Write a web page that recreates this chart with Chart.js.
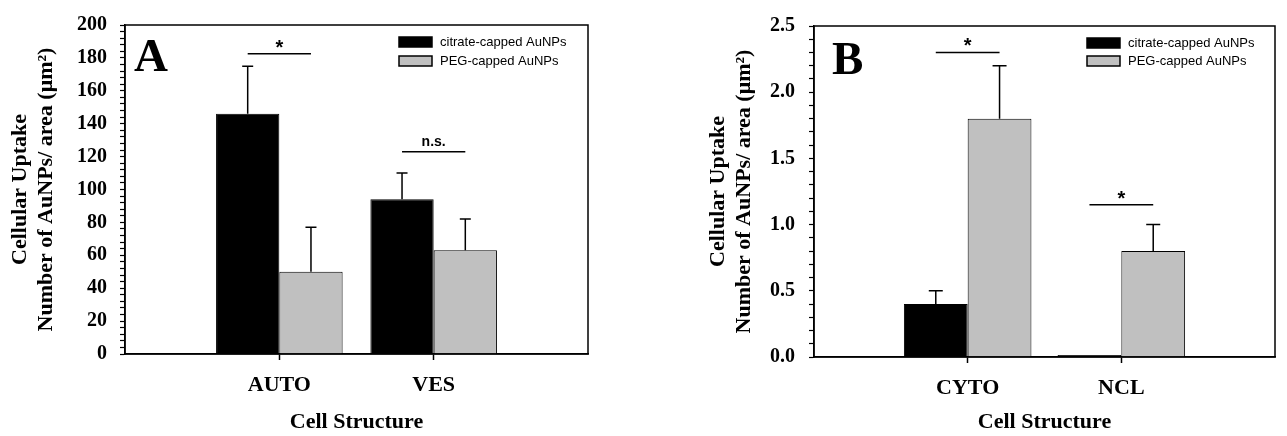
<!DOCTYPE html>
<html>
<head>
<meta charset="utf-8">
<script src="https://cdn.jsdelivr.net/npm/chart.js@4.4.0/dist/chart.umd.min.js"></script>
<style>
  body { margin: 0; background: #fff; width: 1287px; height: 436px; overflow: hidden; }
  canvas { position: absolute; top: 0; }
</style>
</head>
<body>
<canvas id="chartA" width="640" height="436" style="left:0"></canvas>
<canvas id="chartB" width="647" height="436" style="left:640px"></canvas>
<script>
// panel A
var catsA = ['', 'AUTO', 'VES', ''];
var citrateA = [null, 146, 94, null];
var citrateErrA = [null, 29, 16, null];
var pegA = [null, 50, 63, null];
var pegErrA = [null, 27, 19, null];
var sigA = [null, 182.5, 123, null];
var sigTextA = [null, '*', 'n.s.', null];

// panel B
var catsB = ['', 'CYTO', 'NCL', ''];
var citrateB = [null, 0.4, 0.015, null];
var citrateErrB = [null, 0.1, 0, null];
var pegB = [null, 1.8, 0.8, null];
var pegErrB = [null, 0.4, 0.2, null];
var sigB = [null, 2.3, 1.15, null];
var sigTextB = [null, '*', '*', null];

var seriesNames = ['citrate-capped AuNPs', 'PEG-capped AuNPs'];
var yTitle = ['Cellular Uptake', 'Number of AuNPs/ area (\u03bcm\u00b2)'];
var xTitle = 'Cell Structure';

var serif = '"Liberation Serif", "Times New Roman", serif';
var sans = '"Liberation Sans", Arial, sans-serif';

// error bars, significance marks, frame, legend and panel letter
var extras = {
    id: 'extras',
    afterDatasetsDraw: function (chart, args, o) {
        var c = chart.ctx, a = chart.chartArea, y = chart.scales.y;
        var ds = chart.data.datasets;
        c.save();
        c.strokeStyle = '#000';
        c.lineWidth = 1.5;

        ds.forEach(function (d, i) {
            var meta = chart.getDatasetMeta(i);
            meta.data.forEach(function (bar, j) {
                var e = o.errors[i][j];
                if (!e) return;
                var top = y.getPixelForValue(d.data[j] + e);
                c.beginPath();
                c.moveTo(bar.x, bar.y);
                c.lineTo(bar.x, top);
                c.moveTo(bar.x - o.cap, top);
                c.lineTo(bar.x + o.cap, top);
                c.stroke();
            });
        });

        var m0 = chart.getDatasetMeta(0), m1 = chart.getDatasetMeta(1);
        o.sig.forEach(function (v, j) {
            if (v == null) return;
            var py = y.getPixelForValue(v);
            var x0 = m0.data[j].x, x1 = m1.data[j].x;
            c.beginPath();
            c.moveTo(x0, py);
            c.lineTo(x1, py);
            c.stroke();
            var t = o.sigText[j];
            c.font = t === '*' ? 'bold 20px ' + sans : 'bold 14px ' + sans;
            c.fillStyle = '#000';
            c.textAlign = 'center';
            c.textBaseline = 'alphabetic';
            var m = c.measureText(t);
            var by = py - 10 + (m.actualBoundingBoxAscent - m.actualBoundingBoxDescent) / 2;
            c.fillText(t, (x0 + x1) / 2, by);
        });

        c.strokeRect(a.left, a.top, a.right - a.left, a.bottom - a.top);

        c.font = 'bold 47px ' + serif;
        c.fillStyle = '#000';
        c.textAlign = 'left';
        c.textBaseline = 'alphabetic';
        c.fillText(o.letter, a.left + o.letterX, a.top + o.letterY);

        c.font = '13px ' + sans;
        c.textBaseline = 'middle';
        ds.forEach(function (d, i) {
            var bx = a.right - o.legendRight, by = a.top + 12 + i * o.legendGap;
            c.fillStyle = d.backgroundColor;
            c.fillRect(bx, by, 33, 10);
            c.strokeRect(bx, by, 33, 10);
            c.fillStyle = '#000';
            c.fillText(d.label, bx + 41, by + 5);
        });
        c.restore();
    }
};

function makeChart(id, cats, citrate, peg, yMax, step, tickFn, o) {
    return new Chart(document.getElementById(id), {
        type: 'bar',
        data: {
            labels: cats,
            datasets: [{
                label: seriesNames[0],
                data: citrate,
                backgroundColor: '#000',
                borderColor: '#000',
                borderWidth: 1
            }, {
                label: seriesNames[1],
                data: peg,
                backgroundColor: '#c0c0c0',
                borderColor: '#000',
                borderWidth: 1
            }]
        },
        options: {
            responsive: false,
            animation: false,
            categoryPercentage: o.catPct,
            barPercentage: 1,
            layout: { padding: { top: o.box.top, right: o.width - o.box.right, left: 0, bottom: 0 } },
            plugins: {
                legend: { display: false },
                tooltip: { enabled: false },
                extras: o
            },
            scales: {
                x: {
                    offset: false,
                    afterFit: function (s) { s.height = o.xHeight; },
                    grid: {
                        offset: false,
                        drawOnChartArea: false,
                        tickLength: 6,
                        tickWidth: 1.5,
                        tickColor: function (ctx) { return cats[ctx.index] ? '#000' : 'rgba(0,0,0,0)'; }
                    },
                    border: { color: '#000', width: 1.5 },
                    ticks: {
                        autoSkip: false,
                        maxRotation: 0,
                        padding: 12,
                        color: '#000',
                        font: { family: serif, size: 22, weight: 'bold' }
                    },
                    title: {
                        display: true,
                        text: xTitle,
                        color: '#000',
                        padding: { top: 0, bottom: 0 },
                        font: { family: serif, size: 22, weight: 'bold' }
                    }
                },
                y: {
                    min: 0,
                    max: yMax,
                    afterFit: function (s) { s.width = o.yWidth; },
                    grid: { drawOnChartArea: false, tickLength: 5, color: '#000', tickWidth: 1.2 },
                    border: { color: '#000', width: 1.5 },
                    ticks: {
                        stepSize: step,
                        autoSkip: false,
                        padding: o.yPad,
                        color: '#000',
                        font: { family: serif, size: 20, weight: 'bold' },
                        callback: tickFn
                    },
                    title: {
                        display: true,
                        text: yTitle,
                        color: '#000',
                        padding: { top: o.titlePad, bottom: 0 },
                        font: { family: serif, size: 22, weight: 'bold', lineHeight: 1.15 }
                    }
                }
            }
        },
        plugins: [extras]
    });
}

// nudge the layout so the plot frame lands where the reference has it
function fitArea(chart, o) {
    var pad = { top: o.box.top, right: o.width - o.box.right, left: 0, bottom: 0 };
    for (var k = 0; k < 3; k++) {
        var a = chart.chartArea;
        pad.top += o.box.top - a.top;
        pad.right += a.right - o.box.right;
        o.yWidth += o.box.left - a.left;
        o.xHeight += a.bottom - o.box.bottom;
        chart.options.layout.padding = { top: pad.top, right: pad.right, left: 0, bottom: 0 };
        chart.update();
    }
}

var optA = {
    errors: [citrateErrA, pegErrA], sig: sigA, sigText: sigTextA,
    cap: 5.5, letter: 'A', letterX: 9, letterY: 46,
    legendRight: 189, legendGap: 19, catPct: 0.82,
    width: 640, box: { left: 125, top: 21, right: 588, bottom: 354 },
    xHeight: 82, yWidth: 125, yPad: 13, titlePad: 8
};
var optB = {
    errors: [citrateErrB, pegErrB], sig: sigB, sigText: sigTextB,
    cap: 7, letter: 'B', letterX: 18, letterY: 48,
    legendRight: 188, legendGap: 18, catPct: 0.83,
    width: 647, box: { left: 174, top: 19, right: 644, bottom: 357 },
    xHeight: 79, yWidth: 174, yPad: 14, titlePad: 66
};

var chartA = makeChart('chartA', catsA, citrateA, pegA, 200, 4,
    function (v) { return v % 20 === 0 ? String(v) : ''; }, optA);
var chartB = makeChart('chartB', catsB, citrateB, pegB, 2.5, 0.1,
    function (v) { var k = Math.round(v * 10); return k % 5 === 0 ? (k / 10).toFixed(1) : ''; }, optB);

fitArea(chartA, optA);
fitArea(chartB, optB);
</script>
</body>
</html>
